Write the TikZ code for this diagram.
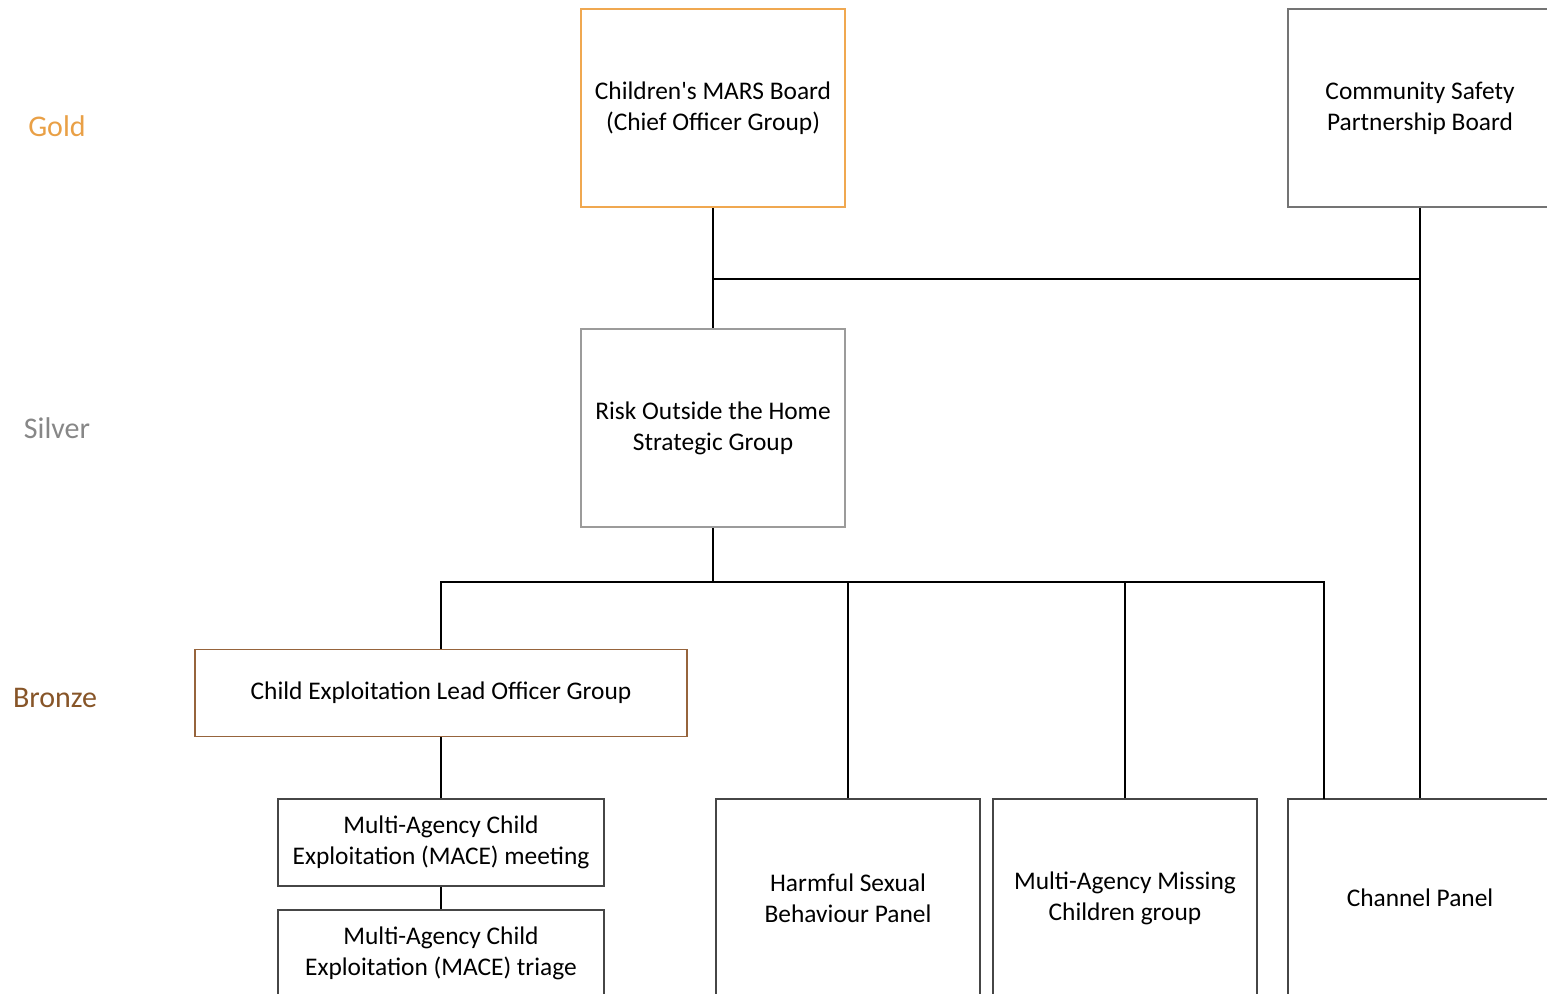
\documentclass[tikz,border=0pt]{standalone}
\usepackage{fontspec}
\setmainfont{Carlito}
\usetikzlibrary{positioning}
\definecolor{goldtxt}{RGB}{233,160,70}
\definecolor{goldline}{RGB}{240,168,80}
\definecolor{silvertxt}{RGB}{135,135,135}
\definecolor{silverline}{RGB}{155,155,155}
\definecolor{bronzetxt}{RGB}{135,85,40}
\definecolor{bronzeline}{RGB}{150,100,60}
\definecolor{boxgray}{RGB}{70,70,70}
\tikzset{
  panel/.style={draw=boxgray, line width=0.8pt, fill=white, align=center, inner sep=0pt,
    minimum width=132pt, minimum height=99pt, font=\fontsize{12.7}{15.5}\selectfont},
  link/.style={line width=1.25pt, black},
  tier/.style={font=\fontsize{15}{18}\selectfont}
}
\begin{document}
\begin{tikzpicture}[x=0.5pt, y=-0.5pt]
		\useasboundingbox (0,0) rectangle (1547,994);
		\clip (0,0) rectangle (1547,994);
		
		% tiers
		\node[tier, text=goldtxt] (gold) at (57,126) {Gold};
		\node[tier, text=silvertxt] (silver) at (57,428) {Silver};
		\node[tier, text=bronzetxt] (bronze) at (55,698) {Bronze};
		
		% boards
		\node[panel, draw=goldline] (mars) at (713,108) {Children\textquotesingle s MARS Board\\(Chief Officer Group)};
		\node[panel, draw=boxgray!75] (csp) at (1420,108) {Community Safety\\Partnership Board};
		\node[panel, draw=silverline] (risk) at (713,428) {Risk Outside the Home\\Strategic Group};
		
		% groups and panels
		\node[panel, draw=bronzeline, minimum width=246pt, minimum height=43.5pt] (celog) at (441,693) {Child Exploitation Lead Officer Group};
		\node[panel, minimum width=163pt, minimum height=43.5pt] (mace) at (441,842.5) {Multi-Agency Child\\Exploitation (MACE) meeting};
		\node[panel, minimum width=163pt, minimum height=43.5pt] (triage) at (441,953.5) {Multi-Agency Child\\Exploitation (MACE) triage};
		\node[panel] (hsb) at (848,898) {Harmful Sexual\\Behaviour Panel};
		\node[panel] (mamc) at (1125,898) {Multi-Agency Missing\\Children group};
		\node[panel] (channel) at (1420,898) {Channel Panel};
		
		\coordinate (goldjoin) at (713,279);
		\coordinate (silverjoin) at (713,582);
		\coordinate (chanleft) at (1324,799);
		
		% connectors
		\draw[link] (mars) -- (risk);
		\draw[link] (csp) -- (channel);
		\draw[link] (csp.south |- goldjoin) -- (goldjoin);
		\draw[link] (risk.south) -- (silverjoin);
		\draw[link] (celog.north) |- (chanleft |- silverjoin) -- (chanleft);
		\foreach \n in {hsb, mamc}
		{\draw[link] (\n.north) -- (\n.north |- silverjoin);
		}
		\draw[link] (celog) -- (mace);
		\draw[link] (mace) -- (triage);
\end{tikzpicture}
\end{document}
